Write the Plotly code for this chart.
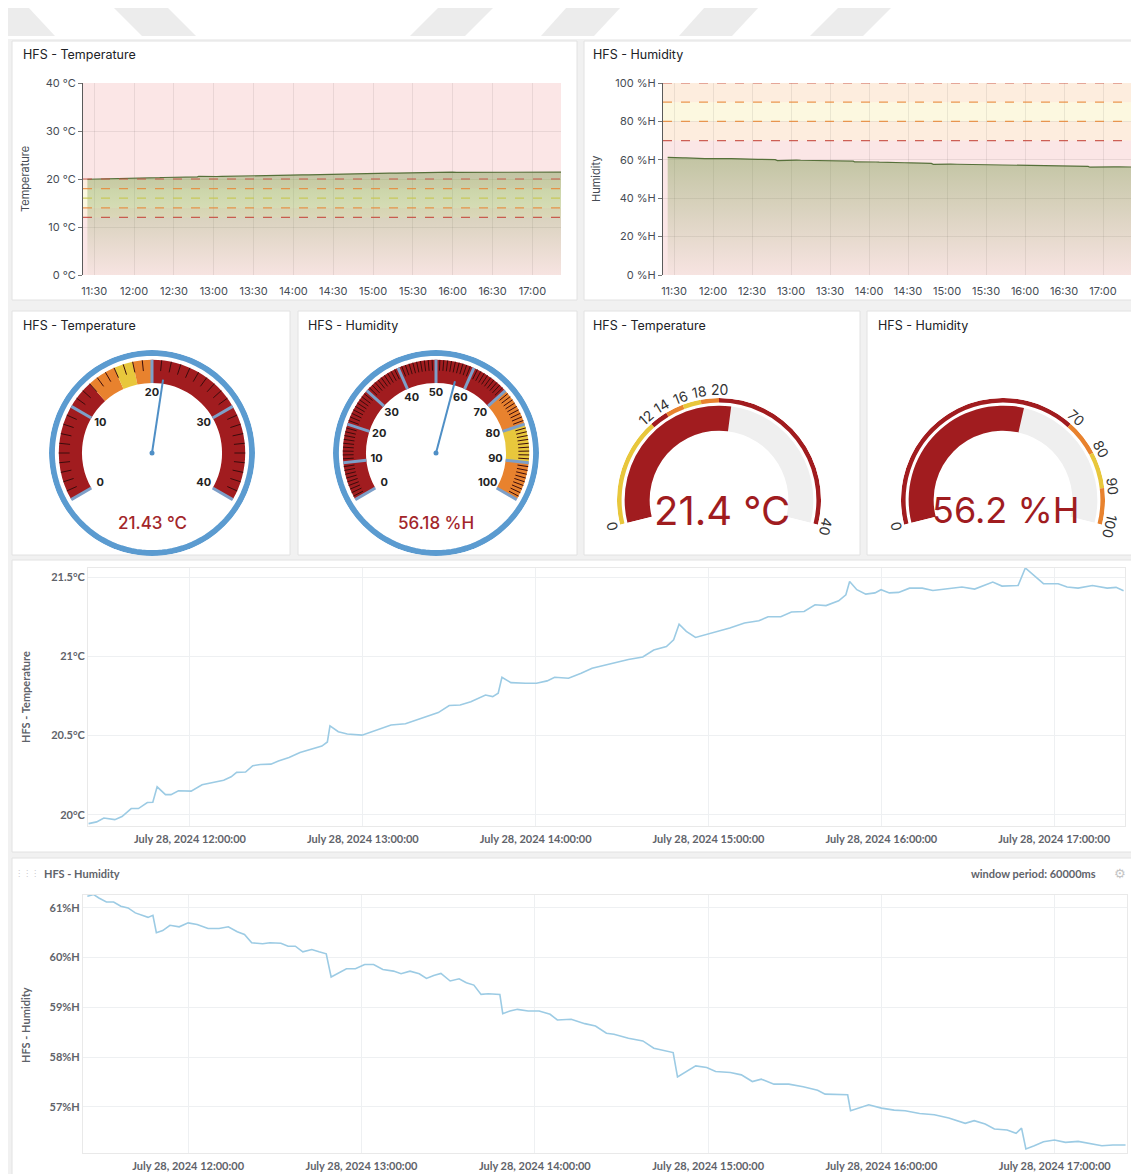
import math
import plotly.graph_objects as go

# The page places the figure 8 px from the window's top-left corner,
# so the figure is sized to the visible area and reference pixels are offset.
WIN_W, WIN_H, OFF = 1139, 1174, 8
W, H = WIN_W - OFF, WIN_H - OFF
DAY = "2024-07-28 "

# ---------------- data ----------------
TEMP_TIMES = ["11:24:48", "11:27:36", "11:30:06", "11:31:24", "11:33:54", "11:36:24", "11:39:36", "11:42:06",
              "11:45:12", "11:47:06", "11:48:36", "11:51:30", "11:53:24", "11:56:00", "12:00:24", "12:04:12",
              "12:07:54", "12:11:42", "12:14:18", "12:16:12", "12:19:18", "12:21:48", "12:24:24", "12:28:06",
              "12:30:42", "12:34:24", "12:38:12", "12:42:00", "12:45:48", "12:47:42", "12:48:36", "12:51:30",
              "12:54:36", "12:59:42", "13:02:12", "13:06:00", "13:09:48", "13:14:48", "13:18:36", "13:22:24",
              "13:26:12", "13:30:00", "13:33:48", "13:37:30", "13:42:36", "13:45:06", "13:47:00", "13:48:18",
              "13:51:24", "13:56:30", "14:00:18", "14:04:00", "14:06:36", "14:11:24", "14:15:48", "14:19:36",
              "14:24:36", "14:28:24", "14:32:12", "14:37:12", "14:41:00", "14:45:24", "14:47:54", "14:49:48",
              "14:52:18", "14:55:30", "15:00:00", "15:03:42", "15:07:24", "15:12:30", "15:17:30", "15:20:42",
              "15:25:06", "15:28:48", "15:33:12", "15:37:00", "15:40:48", "15:45:12", "15:47:42", "15:49:00",
              "15:51:30", "15:54:36", "15:57:48", "15:59:54", "16:02:48", "16:06:00", "16:09:48", "16:14:12",
              "16:17:54", "16:23:00", "16:28:00", "16:32:24", "16:35:36", "16:38:42", "16:41:54", "16:47:30",
              "16:50:00", "16:53:12", "16:56:18", "17:01:24", "17:04:30", "17:08:18", "17:13:18", "17:18:24",
              "17:21:30", "17:24:06"]
TEMP_VALUES = [19.945, 19.956, 19.98, 19.977, 19.97, 19.99, 20.04, 20.04,
               20.078, 20.08, 20.177, 20.128, 20.128, 20.152, 20.15, 20.19,
               20.204, 20.219, 20.24, 20.268, 20.27, 20.31, 20.318, 20.32,
               20.34, 20.362, 20.394, 20.413, 20.434, 20.46, 20.562, 20.525,
               20.51, 20.503, 20.518, 20.54, 20.567, 20.575, 20.598, 20.62,
               20.645, 20.69, 20.693, 20.714, 20.756, 20.746, 20.767, 20.868,
               20.834, 20.83, 20.83, 20.845, 20.868, 20.862, 20.893, 20.925,
               20.946, 20.963, 20.98, 20.996, 21.04, 21.062, 21.104, 21.203,
               21.157, 21.119, 21.14, 21.16, 21.178, 21.21, 21.224, 21.25,
               21.25, 21.28, 21.283, 21.325, 21.32, 21.35, 21.388, 21.472,
               21.42, 21.392, 21.40, 21.42, 21.40, 21.403, 21.43, 21.43,
               21.415, 21.426, 21.437, 21.424, 21.445, 21.468, 21.443, 21.447,
               21.557, 21.504, 21.458, 21.458, 21.437, 21.43, 21.447, 21.43,
               21.435, 21.413]

HUM_TIMES = ["11:25:06", "11:27:18", "11:29:06", "11:31:42", "11:34:12", "11:36:42", "11:39:12", "11:41:42",
             "11:44:18", "11:46:06", "11:47:48", "11:49:00", "11:51:12", "11:53:42", "11:56:54", "12:00:00",
             "12:03:06", "12:06:54", "12:10:42", "12:13:54", "12:17:00", "12:19:30", "12:22:00", "12:25:48",
             "12:28:18", "12:32:06", "12:34:36", "12:37:06", "12:39:42", "12:42:48", "12:45:18", "12:47:48",
             "12:49:30", "12:51:36", "12:54:48", "12:57:54", "13:01:06", "13:04:12", "13:07:24", "13:11:06",
             "13:13:42", "13:16:48", "13:20:00", "13:22:30", "13:25:00", "13:27:30", "13:30:42", "13:33:48",
             "13:36:18", "13:38:54", "13:41:24", "13:43:54", "13:47:54", "13:48:54", "13:51:24", "13:54:00",
             "13:57:42", "14:01:30", "14:05:18", "14:07:48", "14:12:36", "14:17:18", "14:21:00", "14:24:48",
             "14:27:24", "14:32:24", "14:37:24", "14:41:12", "14:45:00", "14:47:54", "14:49:24", "14:52:36",
             "14:55:42", "14:59:30", "15:02:36", "15:07:42", "15:11:30", "15:15:18", "15:18:24", "15:22:48",
             "15:27:54", "15:32:54", "15:37:54", "15:40:30", "15:45:30", "15:48:18", "15:49:18", "15:52:24",
             "15:55:36", "16:00:00", "16:04:24", "16:08:12", "16:13:12", "16:18:18", "16:23:18", "16:29:00",
             "16:32:06", "16:35:54", "16:39:06", "16:43:30", "16:46:36", "16:48:30", "16:50:00", "16:52:54",
             "16:56:06", "16:59:54", "17:03:42", "17:08:06", "17:12:30", "17:16:18", "17:20:06", "17:24:30"]
HUM_VALUES = [61.234, 61.268, 61.2, 61.12, 61.12, 61.033, 61.0, 60.9,
              60.846, 60.81, 60.85, 60.5, 60.545, 60.65, 60.62, 60.7,
              60.666, 60.585, 60.585, 60.62, 60.52, 60.465, 60.3, 60.28,
              60.3, 60.29, 60.23, 60.23, 60.117, 60.164, 60.117, 60.077,
              59.61, 59.676, 59.776, 59.776, 59.863, 59.863, 59.763, 59.729,
              59.676, 59.729, 59.676, 59.582, 59.642, 59.682, 59.53, 59.575,
              59.495, 59.448, 59.26, 59.274, 59.26, 58.873, 58.926, 58.96,
              58.926, 58.926, 58.86, 58.746, 58.76, 58.672, 58.625, 58.48,
              58.458, 58.378, 58.325, 58.177, 58.124, 58.09, 57.602, 57.72,
              57.823, 57.79, 57.709, 57.689, 57.642, 57.508, 57.555, 57.455,
              57.455, 57.401, 57.334, 57.254, 57.241, 57.241, 56.92, 56.987,
              57.04, 56.973, 56.933, 56.92, 56.866, 56.84, 56.773, 56.666,
              56.72, 56.652, 56.552, 56.532, 56.465, 56.572, 56.15, 56.217,
              56.298, 56.33, 56.284, 56.304, 56.264, 56.217, 56.23, 56.23]

TEMP_NOW = 21.43
HUM_NOW = 56.18
TEMP_MIN, TEMP_MAX = 0, 40
HUM_MIN, HUM_MAX = 0, 100

TEMP_CHART_BANDS = [(0, 12, "red"), (12, 14, "orange"), (14, 18, "yellow"), (18, 20, "orange"), (20, 40, "red")]
TEMP_CHART_LINES = [(12, "red"), (14, "orange"), (16, "yellow"), (18, "orange"), (20, "red")]
HUM_CHART_BANDS = [(0, 70, "red"), (70, 80, "orange"), (80, 90, "yellow"), (90, 100, "orange")]
HUM_CHART_LINES = [(70, "red"), (80, "orange"), (90, "orange"), (100, "red")]

TEMP_DIAL_BANDS = [(0, 13, "dred"), (13, 16, "orange"), (16, 18, "yellow"), (18, 20, "orange"), (20, 40, "dred")]
HUM_DIAL_BANDS = [(0, 70, "dred"), (70, 80, "orange"), (80, 90, "yellow"), (90, 100, "orange")]
TEMP_DIAL_LABELS = [0, 10, 20, 30, 40]
HUM_DIAL_LABELS = [0, 10, 20, 30, 40, 50, 60, 70, 80, 90, 100]

TEMP_ARC_RING = [(0, 12, "yellow"), (12, 14, "dred"), (14, 16, "orange"), (16, 18, "yellow"), (18, 20, "orange"), (20, 40, "dred")]
TEMP_ARC_LABELS = [0, 12, 14, 16, 18, 20, 40]
HUM_ARC_RING = [(0, 70, "dred"), (70, 80, "orange"), (80, 90, "yellow"), (90, 100, "orange")]
HUM_ARC_LABELS = [0, 70, 80, 90, 100]

TEMP_TICKS = [20, 20.5, 21, 21.5]
HUM_TICKS = [57, 58, 59, 60, 61]

# ---------------- styling ----------------
GAUGE_COL = {"dred": "#a11c1f", "orange": "#e8822e", "yellow": "#e8c73c"}
BAND_FILL = {"red": "rgba(226,84,84,0.15)", "orange": "rgba(245,150,60,0.17)", "yellow": "rgba(240,215,70,0.17)"}
LINE_COL = {"red": "rgba(196,70,60,0.85)", "orange": "rgba(232,135,55,0.85)", "yellow": "rgba(200,200,80,0.9)"}
BLUE = "#5b9bd0"
VALUE_RED = "#a3262a"


def px(x):
    return (x - OFF) / W


def py(y):
    return 1 - (y - OFF) / H


temp_x = [DAY + t for t in TEMP_TIMES]
hum_x = [DAY + t for t in HUM_TIMES]
TOP_RANGE = [DAY + "11:21:30", DAY + "17:21:30"]

fig = go.Figure()
shapes = []
annotations = []


def text(x, y, s, size=12.5, color="#202226", xanchor="left", family="Inter", weight="normal", angle=0):
    annotations.append(dict(xref="paper", yref="paper", x=px(x), y=py(y), text=s, showarrow=False,
                            xanchor=xanchor, yanchor="middle", textangle=angle,
                            font=dict(family=family, size=size, color=color, weight=weight)))


def panel(x0, y0, x1, y1):
    shapes.append(dict(type="rect", xref="paper", yref="paper", x0=px(x0), x1=px(x1), y0=py(y1), y1=py(y0),
                       fillcolor="white", line=dict(color="#e2e2e2", width=1), layer="below"))


# page background / header watermark
shapes.append(dict(type="rect", xref="paper", yref="paper", x0=0, x1=1, y0=py(39), y1=1,
                   fillcolor="white", line=dict(width=0), layer="below"))
for (tl, tr, bl, br) in [(-20, 28, 5, 55), (113, 167, 142, 196), (439, 494, 410, 465),
                         (567, 621, 541, 594), (705, 759, 679, 732), (839, 892, 810, 863)]:
    path = "M {} {} L {} {} L {} {} L {} {} Z".format(px(tl), py(7), px(tr), py(7), px(br), py(36), px(bl), py(36))
    shapes.append(dict(type="path", xref="paper", yref="paper", path=path, fillcolor="#ececec",
                       line=dict(width=0), layer="below"))

for box in [(12, 41, 577, 300), (584, 41, 1142, 300), (12, 311, 290, 555), (298, 311, 577, 555),
            (584, 311, 860, 555), (867, 311, 1142, 555), (12, 560, 1136, 852), (12, 858, 1136, 1180)]:
    panel(*box)

# ---------------- top time series ----------------
for xs, ys, xa, ya in [(temp_x, TEMP_VALUES, "x", "y"), (hum_x, HUM_VALUES, "x2", "y2")]:
    fig.add_trace(go.Scatter(x=xs, y=ys, xaxis=xa, yaxis=ya, mode="lines",
                             line=dict(color="#56703a", width=1.2), fill="tozeroy",
                             fillgradient=dict(type="vertical", start=0, stop=max(ys),
                                               colorscale=[[0, "rgba(115,150,70,0.03)"],
                                                           [1, "rgba(115,150,70,0.42)"]]),
                             hoverinfo="skip", showlegend=False))

for ax, bands, lines in [("", TEMP_CHART_BANDS, TEMP_CHART_LINES), ("2", HUM_CHART_BANDS, HUM_CHART_LINES)]:
    for lo, hi, c in bands:
        shapes.append(dict(type="rect", xref="x" + ax + " domain", yref="y" + ax, x0=0, x1=1, y0=lo, y1=hi,
                           fillcolor=BAND_FILL[c], line=dict(width=0), layer="below"))
    for v, c in lines:
        shapes.append(dict(type="line", xref="x" + ax + " domain", yref="y" + ax, x0=0, x1=1, y0=v, y1=v,
                           line=dict(color=LINE_COL[c], width=1.2, dash="dash"), layer="above"))

top_x = dict(type="date", tickformat="%H:%M", dtick=1800000, tick0=DAY + "11:30", showgrid=True,
             gridcolor="rgba(0,0,0,0.07)", tickfont=dict(family="Inter", size=11, color="#464c54"),
             showline=False, zeroline=False, ticks="outside", ticklen=6, tickcolor="rgba(0,0,0,0)",
             fixedrange=True, automargin=False, range=TOP_RANGE)
top_y = dict(showgrid=True, gridcolor="rgba(0,0,0,0.07)", showline=True, linecolor="#5a5a5a", linewidth=1,
             ticks="outside", ticklen=4, tickcolor="#777", zeroline=False,
             tickfont=dict(family="Inter", size=11, color="#464c54"), fixedrange=True, automargin=False)

# ---------------- bottom time series ----------------
fig.add_trace(go.Scatter(x=temp_x, y=TEMP_VALUES, xaxis="x3", yaxis="y3", mode="lines",
                         line=dict(color="#9ccbe4", width=1.6), hoverinfo="skip", showlegend=False))
fig.add_trace(go.Scatter(x=hum_x, y=HUM_VALUES, xaxis="x4", yaxis="y4", mode="lines",
                         line=dict(color="#9ccbe4", width=1.6), hoverinfo="skip", showlegend=False))

bot_font = dict(family="Lato", size=11, color="#5f636a", weight="bold")
bot_x = dict(type="date", tickformat="%B %-d, %Y %H:%M:%S", dtick=3600000, tick0=DAY + "12:00",
             showgrid=True, gridcolor="#eef0f2", showline=True, linecolor="#e9e9e9", mirror=True,
             zeroline=False, ticks="outside", ticklen=3, tickcolor="rgba(0,0,0,0)", tickfont=bot_font,
             fixedrange=True, automargin=False)
bot_y = dict(showgrid=True, gridcolor="#eef0f2", showline=True, linecolor="#e9e9e9", mirror=True,
             zeroline=False, ticks="", tickfont=bot_font, fixedrange=True, automargin=False)

fig.update_layout(
    xaxis=dict(top_x, domain=[px(83), px(561)], anchor="y"),
    yaxis=dict(top_y, domain=[py(275), py(83)], anchor="x", range=[TEMP_MIN, TEMP_MAX], dtick=10, ticksuffix=" °C"),
    xaxis2=dict(top_x, domain=[px(663), px(1131)], anchor="y2"),
    yaxis2=dict(top_y, domain=[py(275), py(83)], anchor="x2", range=[HUM_MIN, HUM_MAX], dtick=20, ticksuffix=" %H"),
    xaxis3=dict(bot_x, domain=[px(88), px(1125)], anchor="y3", range=[DAY + "11:24:36", DAY + "17:24:36"]),
    yaxis3=dict(bot_y, domain=[py(826), py(568)], anchor="x3", range=[19.93, 21.557],
                tickvals=TEMP_TICKS, ticktext=["{:g}°C".format(v) for v in TEMP_TICKS]),
    xaxis4=dict(bot_x, domain=[px(83), px(1127)], anchor="y4", range=[DAY + "11:23:36", DAY + "17:25:00"]),
    yaxis4=dict(bot_y, domain=[py(1153), py(895)], anchor="x4", range=[56.07, 61.26],
                tickvals=HUM_TICKS, ticktext=["{:g}%H".format(v) for v in HUM_TICKS]),
)


# ---------------- gauges ----------------
def seg_trace(sub, bands, lo, hi, start, span, base, thick):
    ang = lambda v: start - (v - lo) / (hi - lo) * span
    return go.Barpolar(subplot=sub, theta=[ang((a + b) / 2) for a, b, c in bands],
                       width=[span * (b - a) / (hi - lo) for a, b, c in bands],
                       base=[base] * len(bands), r=[thick] * len(bands),
                       marker=dict(color=[GAUGE_COL.get(c, c) for a, b, c in bands], line=dict(width=0)),
                       hoverinfo="skip", showlegend=False)


def dial(sub, lo, hi, value, bands, labels, minor, box, value_text):
    start, span = 210, 240
    ang = lambda v: start - (v - lo) / (hi - lo) * span
    x0, y0, x1, y1 = box
    fig.add_trace(seg_trace(sub, bands, lo, hi, start, span, 0.68, 0.225))
    th, rr = [], []
    k = 0
    while lo + k * minor <= hi:
        v = lo + k * minor
        if v not in labels:
            th += [ang(v), ang(v), None]
            rr += [0.80, 0.905, None]
        k += 1
    fig.add_trace(go.Scatterpolar(subplot=sub, theta=th, r=rr, mode="lines",
                                  line=dict(color="#3b0c0c", width=1), hoverinfo="skip", showlegend=False))
    th, rr = [], []
    for v in labels:
        th += [ang(v), ang(v), None]
        rr += [0.68, 0.905, None]
    fig.add_trace(go.Scatterpolar(subplot=sub, theta=th, r=rr, mode="lines",
                                  line=dict(color="#7d9fc8", width=3), hoverinfo="skip", showlegend=False))
    ring = list(range(0, 361, 3))
    fig.add_trace(go.Scatterpolar(subplot=sub, theta=ring, r=[0.972] * len(ring), mode="lines",
                                  line=dict(color=BLUE, width=6), hoverinfo="skip", showlegend=False))
    fig.add_trace(go.Scatterpolar(subplot=sub, theta=[ang(v) for v in labels], r=[0.58] * len(labels),
                                  mode="text", text=[str(v) for v in labels],
                                  textfont=dict(family="Inter", size=11, color="#222", weight="bold"),
                                  hoverinfo="skip", showlegend=False))
    fig.add_trace(go.Scatterpolar(subplot=sub, theta=[ang(value), ang(value)], r=[0, 0.72], mode="lines",
                                  line=dict(color="#4f8fc6", width=2), hoverinfo="skip", showlegend=False))
    fig.add_trace(go.Scatterpolar(subplot=sub, theta=[0], r=[0], mode="markers",
                                  marker=dict(color="#4f8fc6", size=5), hoverinfo="skip", showlegend=False))
    cx = (x0 + x1) / 2
    text(cx, 523, value_text, size=17, color=VALUE_RED, xanchor="center", weight=500)
    return dict(domain=dict(x=[px(x0), px(x1)], y=[py(y1), py(y0)]), bgcolor="rgba(0,0,0,0)",
                radialaxis=dict(visible=False, range=[0, 1]), angularaxis=dict(visible=False),
                barmode="overlay")


def arc(sub, lo, hi, value, ring_bands, labels, box, value_text, value_size):
    start, span = 194, 208
    ang = lambda v: start - (v - lo) / (hi - lo) * span
    x0, y0, x1, y1 = box
    fig.add_trace(seg_trace(sub, ring_bands, lo, hi, start, span, 0.955, 0.045))
    fig.add_trace(seg_trace(sub, [(lo, hi, "#efefef")], lo, hi, start, span, 0.68, 0.245))
    fig.add_trace(seg_trace(sub, [(lo, value, "dred")], lo, hi, start, span, 0.68, 0.245))
    cx = (x0 + x1) / 2
    R = (x1 - x0) / 2
    cy = y0 + R
    for v in labels:
        a = ang(v)
        rl = 1.08 * R
        lx = cx + rl * math.cos(math.radians(a))
        ly = cy - rl * math.sin(math.radians(a))
        text(lx, ly, str(v), size=14, color="#333", xanchor="center", angle=90 - a)
    text(cx + 3, 510, value_text, size=value_size, color="#a01c1f", xanchor="center")
    return dict(domain=dict(x=[px(x0), px(x1)], y=[py(y0 + R * (1 + math.sin(math.radians(14)))), py(y0)]),
                sector=[start - span, start], bgcolor="rgba(0,0,0,0)",
                radialaxis=dict(visible=False, range=[0, 1]), angularaxis=dict(visible=False),
                barmode="overlay")


polar1 = dial("polar", TEMP_MIN, TEMP_MAX, TEMP_NOW, TEMP_DIAL_BANDS, TEMP_DIAL_LABELS, 1, (49, 350, 255, 556),
              "{:.2f} °C".format(TEMP_NOW))
polar2 = dial("polar2", HUM_MIN, HUM_MAX, HUM_NOW, HUM_DIAL_BANDS, HUM_DIAL_LABELS, 1, (333, 350, 539, 556),
              "{:.2f} %H".format(HUM_NOW))
polar3 = arc("polar3", TEMP_MIN, TEMP_MAX, TEMP_NOW, TEMP_ARC_RING, TEMP_ARC_LABELS, (617, 398, 821, 602),
             "{:.1f} °C".format(TEMP_NOW), 40)
polar4 = arc("polar4", HUM_MIN, HUM_MAX, HUM_NOW, HUM_ARC_RING, HUM_ARC_LABELS, (901, 398, 1105, 602),
             "{:.1f} %H".format(HUM_NOW), 36)

# ---------------- titles / labels ----------------
text(21, 55, "HFS - Temperature")
text(591, 55, "HFS - Humidity")
text(21, 325, "HFS - Temperature")
text(306, 325, "HFS - Humidity")
text(591, 325, "HFS - Temperature")
text(876, 325, "HFS - Humidity")
text(25, 179, "Temperature", size=11, color="#464c54", xanchor="center", angle=-90)
text(596, 179, "Humidity", size=11, color="#464c54", xanchor="center", angle=-90)
text(25, 697, "HFS - Temperature", size=11, color="#5f636a", xanchor="center", family="Lato", weight="bold", angle=-90)
text(25, 1025, "HFS - Humidity", size=11, color="#5f636a", xanchor="center", family="Lato", weight="bold", angle=-90)
text(27, 873, "⋮⋮⋮", size=8, color="#c8c8c8", xanchor="center", family="DejaVu Sans")
text(42, 873, "HFS - Humidity", size=11, color="#5f636a", family="Lato", weight="bold")
text(1098, 873, "window period: 60000ms", size=11, color="#5f636a", xanchor="right", family="Lato", weight="bold")
text(1120, 873, "⚙", size=13, color="#c4c4c4", xanchor="center", family="DejaVu Sans")

fig.update_layout(
    width=W, height=H, autosize=False, margin=dict(l=0, r=0, t=0, b=0, pad=0),
    paper_bgcolor="#f1f1f1", plot_bgcolor="rgba(0,0,0,0)", showlegend=False,
    polar=polar1, polar2=polar2, polar3=polar3, polar4=polar4,
    shapes=shapes, annotations=annotations,
    font=dict(family="Inter"),
)

fig.write_html("out.html", config={"displayModeBar": False})
